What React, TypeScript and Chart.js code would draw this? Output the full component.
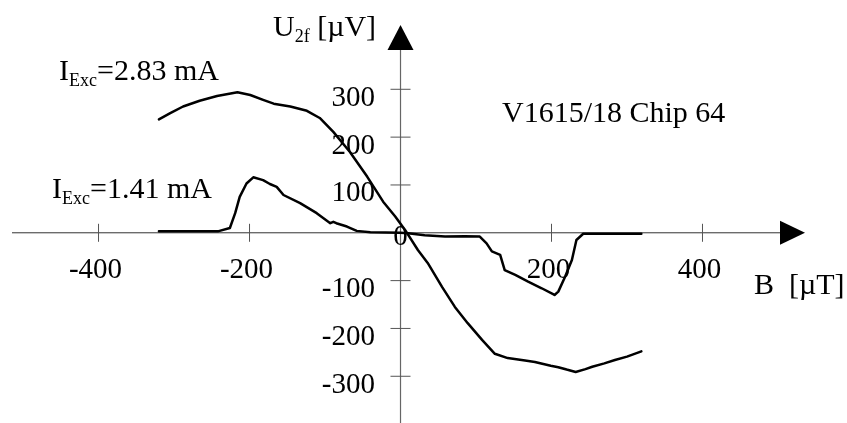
import React, { useEffect, useRef } from "react";
import { Chart, registerables } from "chart.js";

Chart.register(...registerables);

// B [µT] and U2f [µV] for I_Exc = 2.83 mA
const bHigh = [-320, -305, -288, -266, -243, -216, -199, -182, -168, -146, -124, -107, -89, -67, -44, -23, -7, 6, 23, 36, 55, 72, 89, 108, 125, 142, 165, 178, 199, 209, 220, 232, 245, 254, 270, 284, 300, 319];
const uHigh = [237, 250, 264, 276, 286, 294, 288, 278, 270, 264, 255, 240, 211, 169, 117, 65, 34, 6, -36, -63, -113, -155, -189, -224, -253, -262, -267, -270, -278, -281, -286, -291, -285, -280, -273, -266, -259, -248];

// B [µT] and U2f [µV] for I_Exc = 1.41 mA
const bLow = [-320, -242, -226, -219, -213, -204, -195, -182, -173, -164, -155, -133, -111, -93, -89, -85, -71, -58, -40, 0, 10, 32, 59, 85, 105, 114, 121, 132, 138, 152, 169, 187, 204, 209, 218, 227, 233, 242, 319];
const uLow = [3, 3, 10, 41, 75, 103, 116, 110, 102, 96, 79, 62, 41, 20, 23, 20, 13, 4, 1, 0, -1, -5, -8, -7, -8, -22, -39, -46, -78, -88, -102, -116, -130, -123, -92, -57, -15, -2, -2];

const xTicks = [-400, -200, 200, 400];
const yTicks = [300, 200, 100, -100, -200, -300];

const SERIF = '"Liberation Serif", "Times New Roman", serif';

function drawSub(ctx: CanvasRenderingContext2D, x: number, y: number, main: string, sub: string, rest: string) {
  ctx.textAlign = "left";
  ctx.textBaseline = "alphabetic";
  ctx.font = `30px ${SERIF}`;
  ctx.fillText(main, x, y);
  const w1 = ctx.measureText(main).width;
  ctx.font = `18px ${SERIF}`;
  ctx.fillText(sub, x + w1, y + 6);
  const w2 = ctx.measureText(sub).width;
  ctx.font = `30px ${SERIF}`;
  ctx.fillText(rest, x + w1 + w2, y);
}

const axesPlugin = {
  id: "crossAxes",
  beforeDatasetsDraw(chart: any) {
    const ctx: CanvasRenderingContext2D = chart.ctx;
    const xs = chart.scales.x;
    const ys = chart.scales.y;
    const x0 = xs.getPixelForValue(0);
    const y0 = ys.getPixelForValue(0);
    ctx.save();
    // x axis
    ctx.strokeStyle = "#333";
    ctx.lineWidth = 1;
    ctx.beginPath();
    ctx.moveTo(12, y0);
    ctx.lineTo(782, y0);
    ctx.stroke();
    ctx.fillStyle = "#000";
    ctx.beginPath();
    ctx.moveTo(780, y0 - 12);
    ctx.lineTo(805, y0);
    ctx.lineTo(780, y0 + 12);
    ctx.closePath();
    ctx.fill();
    // y axis
    ctx.strokeStyle = "#666";
    ctx.lineWidth = 1.2;
    ctx.beginPath();
    ctx.moveTo(x0, 48);
    ctx.lineTo(x0, 423);
    ctx.stroke();
    ctx.beginPath();
    ctx.moveTo(x0 - 13, 50);
    ctx.lineTo(x0, 25);
    ctx.lineTo(x0 + 13, 50);
    ctx.closePath();
    ctx.fill();
    // ticks
    ctx.lineWidth = 1;
    ctx.strokeStyle = "#555";
    ctx.font = `29px ${SERIF}`;
    ctx.textBaseline = "alphabetic";
    ctx.textAlign = "center";
    for (const t of xTicks) {
      const px = xs.getPixelForValue(t);
      ctx.beginPath();
      ctx.moveTo(px, y0 - 9);
      ctx.lineTo(px, y0 + 9);
      ctx.stroke();
      ctx.fillText(String(t), px - 3, y0 + 45.5);
    }
    ctx.fillText("0", x0, y0 + 12.5);
    ctx.textAlign = "right";
    for (const t of yTicks) {
      const py = ys.getPixelForValue(t);
      ctx.beginPath();
      ctx.moveTo(x0 - 10, py);
      ctx.lineTo(x0 + 10, py);
      ctx.stroke();
      ctx.fillText(String(t), 375, py + 16.5);
    }
    // labels
    drawSub(ctx, 273, 36, "U", "2f", " [µV]");
    drawSub(ctx, 59, 80, "I", "Exc", "=2.83 mA");
    drawSub(ctx, 52, 198, "I", "Exc", "=1.41 mA");
    ctx.textAlign = "left";
    ctx.font = `30px ${SERIF}`;
    ctx.fillText("B  [µT]", 754, 294);
    ctx.fillText("V1615/18 Chip 64", 502, 122);
    ctx.restore();
  },
};

export default function App() {
  const ref = useRef<HTMLCanvasElement | null>(null);
  useEffect(() => {
    if (!ref.current) return;
    const chart = new Chart(ref.current, {
      type: "scatter",
      data: {
        datasets: [
          {
            label: "I_Exc=2.83 mA",
            data: bHigh.map((b, i) => ({ x: b, y: uHigh[i] })),
            showLine: true,
            pointRadius: 0,
            borderColor: "#000",
            borderWidth: 2.5,
            borderJoinStyle: "round",
            borderCapStyle: "round",
            fill: false,
          },
          {
            label: "I_Exc=1.41 mA",
            data: bLow.map((b, i) => ({ x: b, y: uLow[i] })),
            showLine: true,
            pointRadius: 0,
            borderColor: "#000",
            borderWidth: 2.5,
            borderJoinStyle: "round",
            borderCapStyle: "round",
            fill: false,
          },
        ],
      },
      options: {
        responsive: false,
        animation: false,
        events: [],
        layout: { padding: 0 },
        plugins: { legend: { display: false }, tooltip: { enabled: false } },
        scales: {
          x: { type: "linear", display: false, min: -530.5, max: 591.4 },
          y: { type: "linear", display: false, min: -397.7, max: 486.7 },
        },
      },
      plugins: [axesPlugin],
    });
    return () => chart.destroy();
  }, []);
  return (
    <div style={{ position: "absolute", left: 0, top: 0, width: 847, height: 423, background: "#fff" }}>
      <canvas ref={ref} width={847} height={423} style={{ display: "block" }} />
    </div>
  );
}
